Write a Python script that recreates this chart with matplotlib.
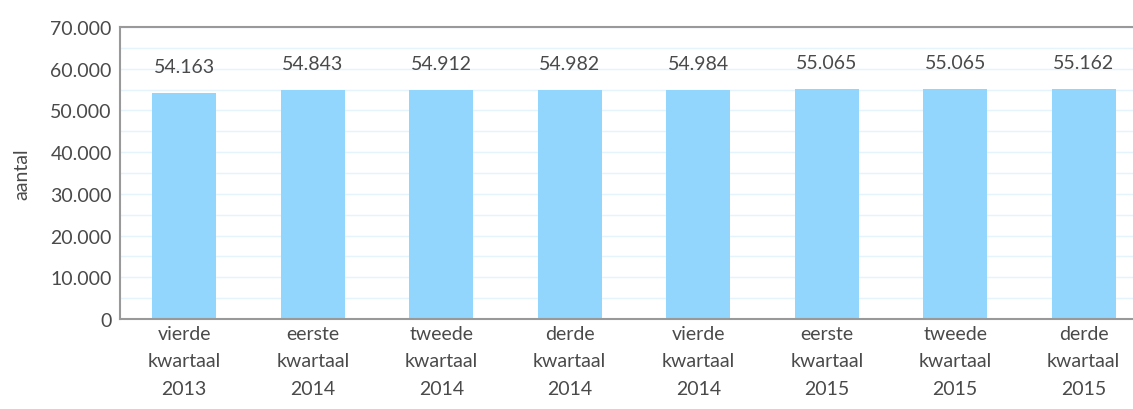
#! python3
# plot.py - aantal per kwartaal, staafdiagram

import matplotlib
matplotlib.use('Agg')
import matplotlib.pyplot as plt
from matplotlib.ticker import MultipleLocator, FuncFormatter

categories = ['vierde\nkwartaal\n2013', 'eerste\nkwartaal\n2014', 'tweede\nkwartaal\n2014',
              'derde\nkwartaal\n2014', 'vierde\nkwartaal\n2014', 'eerste\nkwartaal\n2015',
              'tweede\nkwartaal\n2015', 'derde\nkwartaal\n2015']
values = [54163, 54843, 54912, 54982, 54984, 55065, 55065, 55162]

plt.rcParams['font.family'] = ['Lato', 'DejaVu Sans']

fig = plt.figure(figsize=(11.33, 4.10), dpi=100)
# right edge of the plot area runs past the picture, like in the original
ax = fig.add_axes([120 / 1133, 1 - 320 / 410, 1028 / 1133, 292 / 410])

x = list(range(len(values)))
ax.bar(x, values, width=0.5, color='#92d5fd', zorder=2)

for xi, v in zip(x, values):
    label = f'{v:,}'.replace(',', '.')
    ax.annotate(label, (xi, v), xytext=(0, 13), textcoords='offset points',
                ha='center', va='bottom', fontsize=14, color='#4a4a4a')

ax.set_xlim(-0.5, len(values) - 0.5)
ax.set_ylim(0, 70000)
ax.yaxis.set_major_locator(MultipleLocator(10000))
ax.yaxis.set_minor_locator(MultipleLocator(5000))
ax.yaxis.set_major_formatter(FuncFormatter(lambda v, p: f'{int(v):,}'.replace(',', '.')))
ax.grid(True, axis='y', which='both', color='#e4f3fc', linewidth=1, zorder=0)

ax.set_xticks(x)
ax.set_xticklabels(categories, linespacing=1.75)
ax.tick_params(axis='x', length=0, pad=4, labelsize=14, labelcolor='#4a4a4a')
ax.tick_params(axis='y', which='both', length=0, pad=6, labelsize=14, labelcolor='#4a4a4a')

for side in ['left', 'top', 'bottom']:
    ax.spines[side].set_color('#999999')
    ax.spines[side].set_linewidth(1.5)
ax.spines['right'].set_visible(False)

ax.set_ylabel('aantal', fontsize=14, color='#4a4a4a', labelpad=14)

fig.savefig('out.png', dpi=100)
